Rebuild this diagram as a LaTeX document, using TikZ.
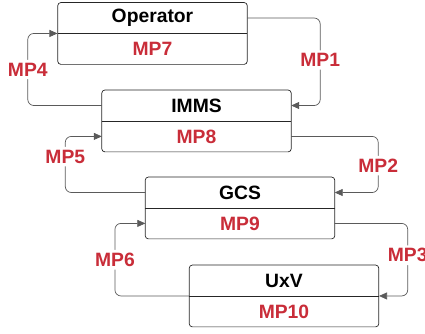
\documentclass[tikz,border=0pt]{standalone}
\usepackage{fontspec}
\setmainfont{Liberation Sans}
\usetikzlibrary{arrows.meta, positioning, fit}
\definecolor{mpred}{RGB}{201, 45, 57}
\definecolor{linegray}{RGB}{90, 90, 90}

\begin{document}
\begin{tikzpicture}[
			x=1pt, y=-1pt,
			>={Triangle[length=8pt, width=7pt]},
			font=\fontsize{19.3}{21}\selectfont\bfseries,
			part/.style={minimum width=189pt, minimum height=30.5pt, inner sep=0pt},
			mp/.style={part, text=mpred},
			box/.style={draw=black!85, line width=0.7pt, rounded corners=3pt, inner sep=0pt},
			conn/.style={draw=linegray, line width=0.7pt, rounded corners=6pt},
			lbl/.style={fill=white, text=mpred, inner sep=3pt}
		]

		\useasboundingbox (0,0) rectangle (425,333);

		%% Operator
		\node[part] (opT) at (152.5,18) {Operator};
		\node[mp, below=0pt of opT] (opM) {MP7};
		\node[box, fit=(opT)(opM)] (op) {};
		\draw[box] (opT.south west) -- (opT.south east);

		%% IMMS
		\node[part] (imT) at (196.5,105.5) {IMMS};
		\node[mp, below=0pt of imT] (imM) {MP8};
		\node[box, fit=(imT)(imM)] (im) {};
		\draw[box] (imT.south west) -- (imT.south east);

		%% GCS
		\node[part] (gcT) at (240,192.5) {GCS};
		\node[mp, below=0pt of gcT] (gcM) {MP9};
		\node[box, fit=(gcT)(gcM)] (gc) {};
		\draw[box] (gcT.south west) -- (gcT.south east);

		%% UxV
		\node[part] (uxT) at (284,280.5) {UxV};
		\node[mp, below=0pt of uxT] (uxM) {MP10};
		\node[box, fit=(uxT)(uxM)] (ux) {};
		\draw[box] (uxT.south west) -- (uxT.south east);

		%% Links on the right
		\draw[conn, ->] (opT.east) -- ++(73,0) |- node[lbl, pos=0.24] {MP1} (imT.east);
		\draw[conn, ->] (imM.east) -- ++(87,0) |- node[lbl, pos=0.26] {MP2} (gcT.east);
		\draw[conn, ->] (gcM.east) -- ++(73,0) |- node[lbl, pos=0.22] {MP3} (ux.east);

		%% Links on the left
		\draw[conn, ->] (imT.west) -- ++(-74,0) |- node[lbl, pos=0.25] {MP4} (op.west);
		\draw[conn, ->] (gcT.west) -- ++(-80,0) |- node[lbl, pos=0.32] {MP5} (imM.west);
		\draw[conn, ->] (ux.west) -- ++(-74,0) |- node[lbl, pos=0.25] {MP6} (gcM.west);

\end{tikzpicture}
\end{document}
